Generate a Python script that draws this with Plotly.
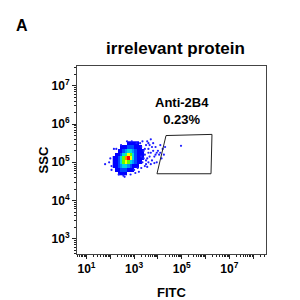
import numpy as np
import plotly.graph_objects as go

# ---- data (log10 units) ----
grid_x = [2.15, 2.25, 2.35, 2.45, 2.55, 2.65, 2.75, 2.85, 2.95, 3.05, 3.15, 3.25, 3.35, 3.45, 3.55]
grid_y = [4.7, 4.8, 4.9, 5.0, 5.1, 5.2, 5.3, 5.4, 5.5]
density = [
    [0, 0, 1, 1, 1, 1, 0, 0, 0, 0, 0, 0, 0, 0, 0],   # 4.7
    [0, 1, 1, 2, 2, 2, 1, 1, 1, 0, 0, 0, 0, 0, 0],   # 4.8
    [1, 1, 2, 3, 4, 4, 3, 2, 1, 1, 1, 0, 0, 0, 0],   # 4.9
    [1, 1, 2, 4, 6, 7, 6, 4, 3, 2, 1, 1, 0, 0, 0],   # 5.0
    [1, 1, 2, 4, 6, 8, 9, 7, 4, 2, 1, 1, 1, 0, 0],   # 5.1
    [0, 1, 1, 2, 4, 5, 7, 6, 4, 2, 1, 1, 1, 0, 0],   # 5.2
    [0, 0, 1, 1, 2, 3, 4, 4, 3, 2, 1, 1, 1, 0, 0],   # 5.3
    [0, 0, 0, 1, 1, 1, 2, 2, 2, 1, 1, 1, 0, 0, 0],   # 5.4
    [0, 0, 0, 0, 0, 0, 1, 1, 1, 1, 1, 0, 0, 0, 0],   # 5.5
]
sparse_x = [3.3, 3.4, 3.5, 3.45, 3.6, 3.55, 3.7, 3.65, 3.8, 3.75, 3.9, 3.85, 4.0, 3.95,
            4.1, 4.05, 4.2, 4.15, 3.35, 3.5, 3.6, 3.3, 3.45, 3.7, 3.25, 3.55, 3.8, 1.78,
            4.97, 2.05, 1.95, 2.15, 3.2, 3.05, 2.55, 3.9, 4.1, 3.65, 3.4, 3.6,
            2.0, 2.05, 2.25, 2.35, 2.6, 2.85, 3.0, 3.15, 3.3, 3.45, 3.6, 3.75,
            2.9, 3.1, 3.35, 3.5, 2.45, 2.7, 3.55, 3.85, 4.25, 4.3, 3.95, 3.7]
sparse_y = [5.4, 5.3, 5.45, 5.2, 5.35, 5.1, 5.25, 5.45, 5.3, 5.05, 5.4, 5.15, 5.3, 5.0,
            5.45, 5.2, 5.35, 5.1, 5.0, 4.95, 5.0, 4.85, 4.9, 4.95, 5.5, 5.55, 5.5, 4.95,
            5.43, 4.8, 5.0, 5.35, 4.75, 4.72, 4.65, 5.2, 5.25, 5.15, 5.1, 5.25,
            5.1, 4.9, 5.35, 4.68, 4.62, 4.68, 4.8, 4.85, 5.15, 5.35, 5.5, 5.4,
            5.55, 5.5, 5.55, 5.05, 5.45, 5.55, 4.88, 4.98, 5.2, 5.4, 5.25, 5.6]
gate_x = [4.34, 6.27, 6.23, 3.96, 4.34]
gate_y = [5.70, 5.73, 4.70, 4.70, 5.70]
gate_name = "Anti-2B4"
gate_pct = "0.23%"
x_major = [1, 2, 3, 4, 5, 6, 7, 8]
x_labels = ["<b>10<sup>1</sup></b>", "", "<b>10<sup>3</sup></b>", "", "<b>10<sup>5</sup></b>", "",
            "<b>10<sup>7</sup></b>", ""]
y_major = [3, 4, 5, 6, 7]
y_labels = ["<b>10<sup>%d</sup></b>" % v for v in y_major]

z = np.array(density, dtype=float)
z[z == 0] = np.nan

jet = [[0.0, "#0000ff"], [0.3, "#00b4ff"], [0.45, "#00ffc0"], [0.6, "#40ff00"],
       [0.75, "#ffff00"], [0.88, "#ff8000"], [1.0, "#ff0000"]]

def minors(lo, hi):
    out = []
    for d in range(int(np.floor(lo)), int(np.ceil(hi)) + 1):
        for k in range(2, 10):
            v = d + np.log10(k)
            if lo <= v <= hi:
                out.append(v)
    return out

xr = [0.6, 8.54]
yr = [2.6, 7.52]
FONT = "Liberation Sans"

fig = go.Figure()
fig.add_trace(go.Heatmap(x=grid_x, y=grid_y, z=z, colorscale=jet, zmin=1, zmax=9,
                         showscale=False, hoverinfo="skip"))
fig.add_trace(go.Scatter(x=sparse_x, y=sparse_y, mode="markers",
                         marker=dict(size=2.2, color="#1f1fff"), hoverinfo="skip"))
fig.add_trace(go.Scatter(x=gate_x, y=gate_y, mode="lines",
                         line=dict(color="#222222", width=1), hoverinfo="skip"))
fig.add_annotation(x=(gate_x[0] + gate_x[1]) / 2 - 0.3, y=gate_y[1], yshift=23,
                   text="<b>%s</b><br><b>%s</b>" % (gate_name, gate_pct),
                   showarrow=False, font=dict(size=13, color="black", family=FONT),
                   align="center", xanchor="center", yanchor="middle")

axis_common = dict(showgrid=False, zeroline=False, showline=True, linecolor="#444444",
                   linewidth=1, mirror=True, ticks="outside", ticklen=4, tickwidth=1,
                   tickcolor="#222222", automargin=False,
                   tickfont=dict(size=12, color="black", family=FONT))
fig.update_xaxes(range=xr, tickmode="array", tickvals=x_major, ticktext=x_labels,
                 minor=dict(tickvals=minors(*xr), ticks="outside", ticklen=2, tickcolor="#222222"),
                 title=dict(text="<b>FITC</b>", font=dict(size=13, color="black", family=FONT),
                            standoff=21),
                 **axis_common)
fig.update_yaxes(range=yr, tickmode="array", tickvals=y_major, ticktext=y_labels,
                 minor=dict(tickvals=minors(*yr), ticks="outside", ticklen=2, tickcolor="#222222"),
                 title=dict(text="<b>SSC</b>", font=dict(size=13, color="black", family=FONT),
                            standoff=0),
                 **axis_common)
fig.update_layout(width=300, height=300, margin=dict(l=77, r=34, t=66, b=46, autoexpand=False),
                  plot_bgcolor="white", paper_bgcolor="white", showlegend=False,
                  title=dict(text="<b>irrelevant protein</b>", x=0.585, xanchor="center",
                             y=1 - 48 / 300, yanchor="middle",
                             font=dict(size=17, color="black", family=FONT)))
fig.add_annotation(text="<b>A</b>", xref="paper", yref="paper", x=(22 - 77) / 189,
                   y=1 + (66 - 25) / 188, xanchor="center", yanchor="middle",
                   showarrow=False, font=dict(size=16, color="black", family=FONT))
fig.write_html("out.html")
